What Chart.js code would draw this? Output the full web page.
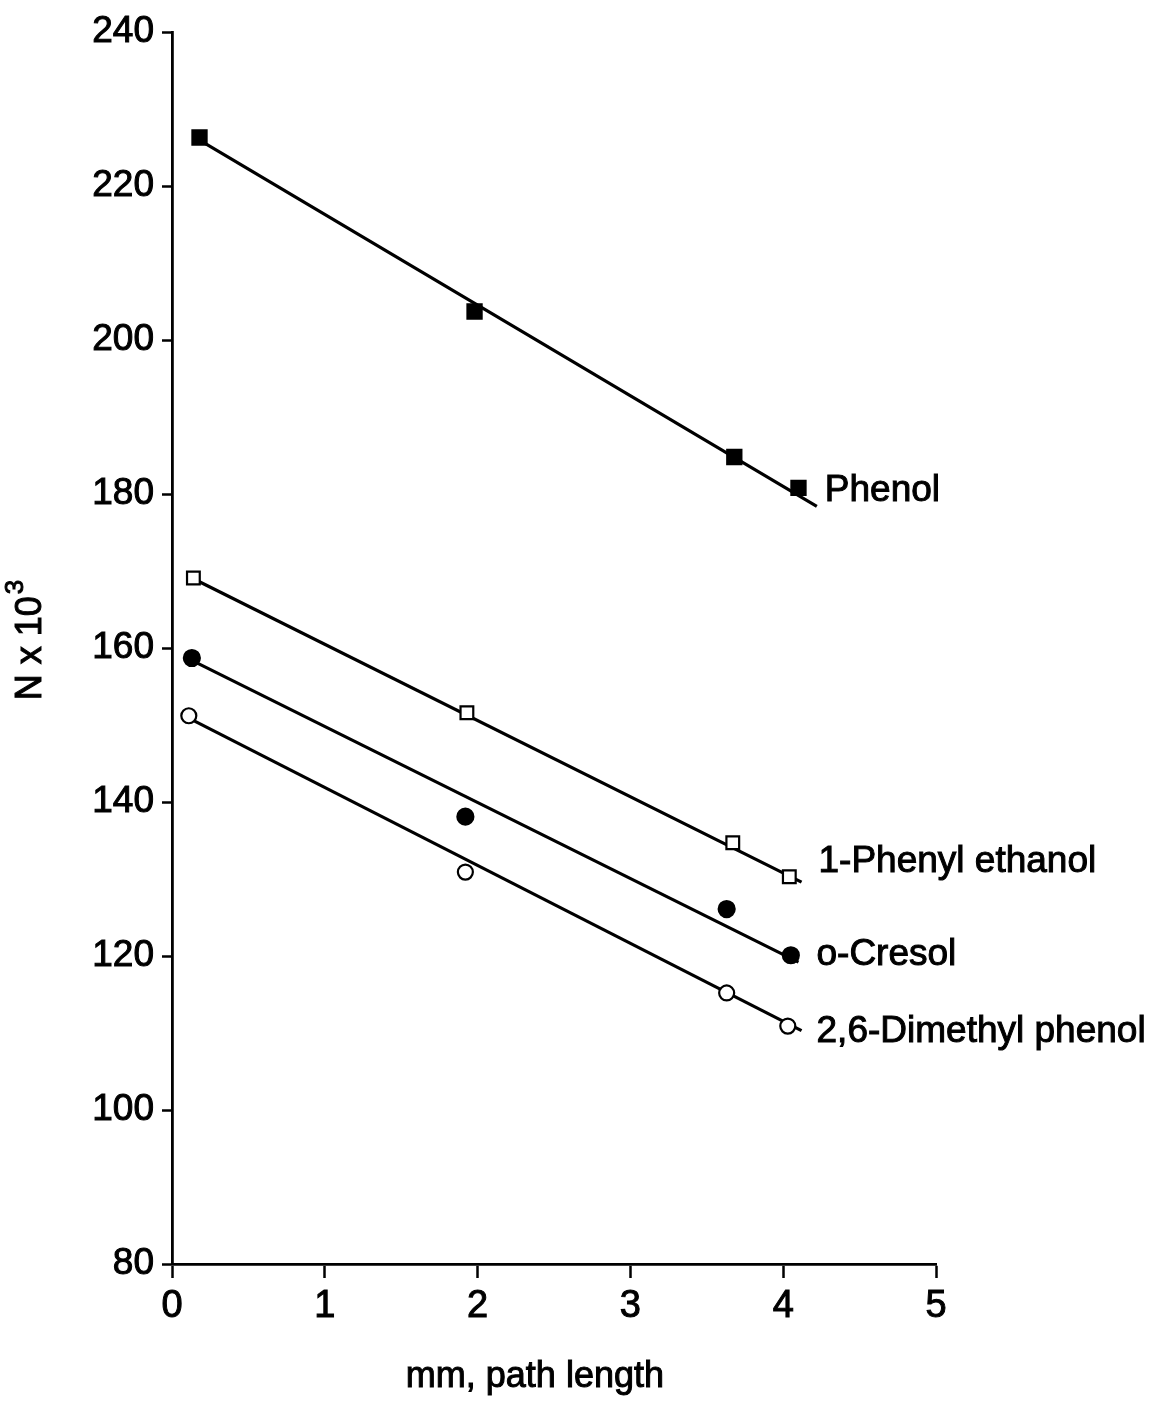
<!DOCTYPE html>
<html>
<head>
<meta charset="utf-8">
<script src="https://cdn.jsdelivr.net/npm/chart.js@4/dist/chart.umd.min.js"></script>
<style>
  html, body { margin: 0; padding: 0; background: #fff; }
  #wrap { width: 1167px; height: 1407px; }
</style>
</head>
<body>
<div id="wrap"><canvas id="c" width="1167" height="1407"></canvas></div>
<script>
// ---- data ----
const xTicks = [0, 1, 2, 3, 4, 5];
const yTicks = [80, 100, 120, 140, 160, 180, 200, 220, 240];

const phenolX = [0.18, 1.98, 3.68, 4.10];
const phenolY = [226.3, 203.7, 184.8, 180.8];
const phenolFitX = [0.15, 4.22];
const phenolFitY = [226.3, 178.4];

const phenylEthanolX = [0.14, 1.93, 3.67, 4.04];
const phenylEthanolY = [169.1, 151.6, 134.7, 130.3];
const phenylEthanolFitX = [0.14, 4.12];
const phenylEthanolFitY = [169.0, 129.6];

const oCresolX = [0.13, 1.92, 3.63, 4.05];
const oCresolY = [158.7, 138.1, 126.1, 120.1];
const oCresolFitX = [0.13, 4.10];
const oCresolFitY = [158.4, 119.2];

const dimethylX = [0.11, 1.92, 3.63, 4.03];
const dimethylY = [151.2, 130.9, 115.2, 110.9];
const dimethylFitX = [0.11, 4.12];
const dimethylFitY = [150.9, 110.3];

const seriesNames = ['Phenol', '1-Phenyl ethanol', 'o-Cresol', '2,6-Dimethyl phenol'];
const xTitle = 'mm, path length';
const yTitleBase = 'N x 10';
const yTitleExp = '3';

const pts = (xs, ys) => xs.map((x, i) => ({ x: x, y: ys[i] }));

const FONT = '"Liberation Sans", Arial, Helvetica, sans-serif';

function markerSet(xs, ys, style, radius, filled) {
  return {
    type: 'scatter',
    data: pts(xs, ys),
    showLine: false,
    pointStyle: style,
    pointRadius: radius,
    pointHoverRadius: radius,
    pointBorderWidth: 2.2,
    pointBorderColor: '#000',
    pointBackgroundColor: filled ? '#000' : '#fff',
    order: 1
  };
}
function fitSet(xs, ys, name) {
  return {
    type: 'line',
    label: name,
    data: pts(xs, ys),
    showLine: true,
    borderColor: '#000',
    borderWidth: 3.2,
    pointRadius: 0,
    fill: false,
    order: 2
  };
}

const datasets = [
  fitSet(phenolFitX, phenolFitY, seriesNames[0]),
  fitSet(phenylEthanolFitX, phenylEthanolFitY, seriesNames[1]),
  fitSet(oCresolFitX, oCresolFitY, seriesNames[2]),
  fitSet(dimethylFitX, dimethylFitY, seriesNames[3]),
  markerSet(phenolX, phenolY, 'rect', 10, true),
  markerSet(phenylEthanolX, phenylEthanolY, 'rect', 9, false),
  markerSet(oCresolX, oCresolY, 'circle', 8, true),
  markerSet(dimethylX, dimethylY, 'circle', 7.5, false)
];

// label offsets (pixels) from the end of each fit line
const labelOffsets = [[8, -16], [17, -20], [18, -7], [15, 1]];

function heavyText(ctx, text, x, y) {
  ctx.fillText(text, x, y);
  ctx.lineWidth = 1;
  ctx.strokeStyle = '#000';
  ctx.strokeText(text, x, y);
}

const whiteBg = {
  id: 'whiteBg',
  beforeDraw(chart) {
    const ctx = chart.ctx;
    ctx.save();
    ctx.fillStyle = '#fff';
    ctx.fillRect(0, 0, chart.width, chart.height);
    ctx.restore();
  }
};

const textLayer = {
  id: 'textLayer',
  afterDatasetsDraw(chart) {
    const ctx = chart.ctx;
    const xs = chart.scales.x, ys = chart.scales.y;
    const area = chart.chartArea;
    ctx.save();
    ctx.fillStyle = '#000';
    ctx.font = '37px ' + FONT;
    ctx.textAlign = 'left';
    ctx.textBaseline = 'middle';
    for (let i = 0; i < 4; i++) {
      const d = chart.data.datasets[i].data;
      const last = d[d.length - 1];
      const px = xs.getPixelForValue(last.x) + labelOffsets[i][0];
      const py = ys.getPixelForValue(last.y) + labelOffsets[i][1];
      heavyText(ctx, chart.data.datasets[i].label, px, py);
    }
    // x axis title
    ctx.font = '36px ' + FONT;
    ctx.textAlign = 'center';
    heavyText(ctx, xTitle, area.left + (area.right - area.left) * 0.475, 1377);
    // y axis title, rotated, with superscript
    ctx.translate(31, 640);
    ctx.rotate(-Math.PI / 2);
    ctx.font = '36px ' + FONT;
    const wBase = ctx.measureText(yTitleBase).width;
    ctx.font = '26px ' + FONT;
    const wExp = ctx.measureText(yTitleExp).width;
    const total = wBase + 2 + wExp;
    ctx.textAlign = 'left';
    ctx.font = '36px ' + FONT;
    heavyText(ctx, yTitleBase, -total / 2, 0);
    ctx.font = '26px ' + FONT;
    heavyText(ctx, yTitleExp, -total / 2 + wBase + 2, -15);
    ctx.restore();
  }
};

new Chart(document.getElementById('c'), {
  type: 'scatter',
  data: { datasets: datasets },
  options: {
    responsive: false,
    animation: false,
    events: [],
    layout: { padding: { left: 0, right: 231, top: 32, bottom: 0 } },
    plugins: { legend: { display: false }, tooltip: { enabled: false } },
    scales: {
      x: {
        type: 'linear',
        min: 0, max: 5,
        afterBuildTicks(scale) { scale.ticks = xTicks.map(v => ({ value: v })); },
        afterFit(scale) { scale.height = 143; },
        grid: { drawOnChartArea: false, drawTicks: true, tickLength: 14, tickWidth: 2.5, tickColor: '#000' },
        border: { display: true, color: '#000', width: 2.8 },
        ticks: { color: '#000', font: { family: FONT, size: 38 }, padding: 6, maxRotation: 0,
                 textStrokeColor: '#000', textStrokeWidth: 1 }
      },
      y: {
        type: 'linear',
        min: 80, max: 240,
        afterBuildTicks(scale) { scale.ticks = yTicks.map(v => ({ value: v })); },
        afterFit(scale) { scale.width = 172; },
        grid: { drawOnChartArea: false, drawTicks: true, tickLength: 10, tickWidth: 2.5, tickColor: '#000' },
        border: { display: true, color: '#000', width: 2.8 },
        ticks: { color: '#000', font: { family: FONT, size: 37 }, padding: 8,
                 textStrokeColor: '#000', textStrokeWidth: 1 }
      }
    }
  },
  plugins: [whiteBg, textLayer]
});
</script>
</body>
</html>
